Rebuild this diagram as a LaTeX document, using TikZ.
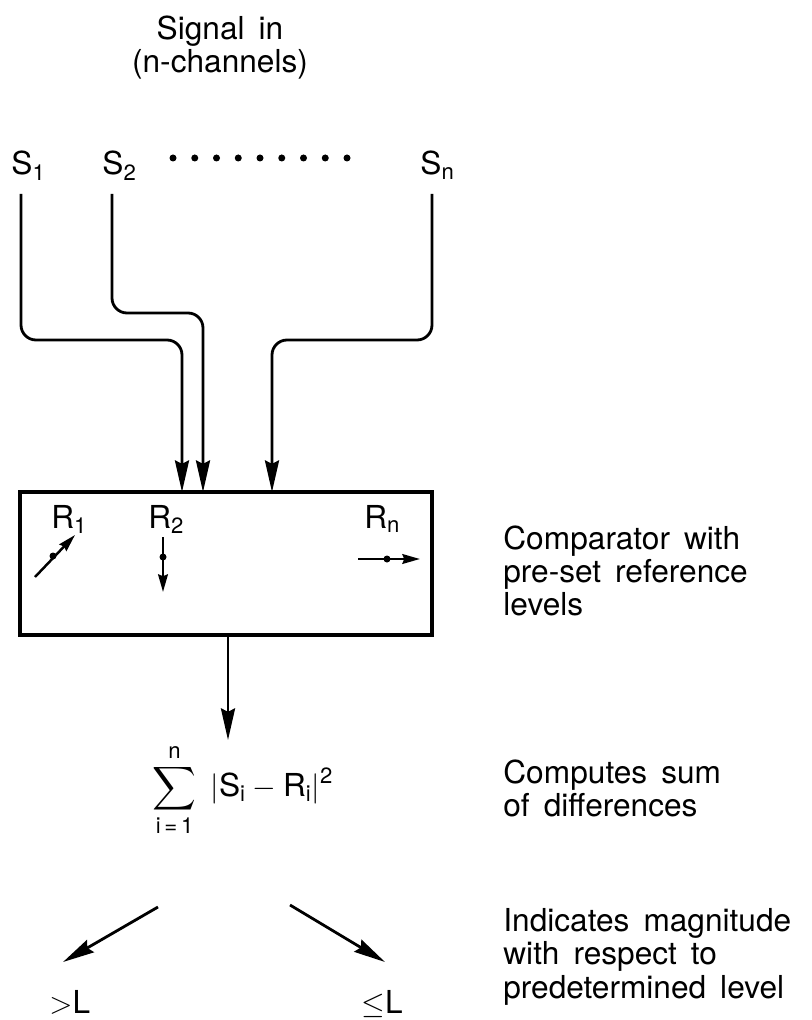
\documentclass[tikz,border=0pt]{standalone}
\usepackage{amsmath}
\usepackage{fontspec}
\setmainfont{TeX Gyre Heros}[WordSpace=1.6]
\usetikzlibrary{arrows.meta}

\tikzset{
  sigline/.style={line width=1.6pt, rounded corners=0.3cm, -{Stealth[length=18pt,width=8pt,inset=2pt]}},
  knob/.style={line width=1.4pt, -{Stealth[length=10pt,width=5.5pt,inset=1pt]}},
  lbl/.style={inner sep=0pt, anchor=base west},
  note/.style={inner sep=0pt, anchor=north west, align=left},
}

\begin{document}
\begin{tikzpicture}[x=0.02cm, y=-0.02cm, font=\fontsize{18pt}{19pt}\selectfont, line width=1.6pt]
  \useasboundingbox (0,0) rectangle (811,1020);

  % Signal inputs
  \node[inner sep=0pt, anchor=north, align=center] (sigin) at (220,14) {Signal in\\(n-channels)};
  \node[lbl] (s1) at (10,175) {S\textsubscript{1}};
  \node[lbl] (s2) at (101,175) {S\textsubscript{2}};
  \node[lbl] (sn) at (419,175) {S\textsubscript{n}};
  \foreach \k in {0,...,8}
    \fill (173+21.75*\k,158) circle (3.5);

  % Comparator box
  \node[draw, line width=2pt, inner sep=0pt, outer sep=0pt,
        minimum width=8.24cm, minimum height=2.86cm] (comp) at (226,563.5) {};
  \coordinate (t1) at (21,194);
  \coordinate (t2) at (112,194);
  \coordinate (tn) at (432,194);
  \coordinate (e1) at (182,492);
  \coordinate (e2) at (203,492);
  \coordinate (en) at (272,492);
  \draw[sigline] (t1) -- (21,340) -- (182,340) -- (comp.north -| e1);
  \draw[sigline] (t2) -- (112,313) -- (203,313) -- (comp.north -| e2);
  \draw[sigline] (tn) -- (432,340) -- (272,340) -- (comp.north -| en);

  % Reference levels
  \node[lbl] (r1) at (50,528) {R\textsubscript{1}};
  \node[lbl] (r2) at (147,528) {R\textsubscript{2}};
  \node[lbl] (rn) at (363,528) {R\textsubscript{n}};
  \draw[knob] (35,577) -- (75,535);
  \fill (53,556) circle (3.5);
  \draw[knob] (163,537) -- (163,592);
  \fill (163,557) circle (3.5);
  \draw[knob] (358,559) -- (420,559);
  \fill (387,559) circle (3.5);

  % Sum of differences
  \coordinate (o1) at (228,740);
  \draw[sigline] (comp.south -| o1) -- (o1);
  \node[inner sep=0pt] (sum) at (243,790)
    {$\displaystyle\sum_{\text{i\,=\,1}}^{\text{n}}\ \lvert\text{S}_\text{i} - \text{R}_\text{i}\rvert^{\text{2}}$};

  % Level outputs
  \node[lbl] (gt) at (48,1013) {$>$L};
  \node[lbl] (le) at (360,1013) {$\leq$L};
  \coordinate (g0) at (158,907);
  \coordinate (g1) at (63,962);
  \coordinate (l0) at (290,905);
  \coordinate (l1) at (385,962);
  \draw[sigline] (g0) -- (g1);
  \draw[sigline] (l0) -- (l1);

  % Notes
  \node[note] (cmpnote) at (502,524) {Comparator with\\pre-set reference\\levels};
  \node[note] (sumnote) at (502,758) {Computes sum\\of differences};
  \node[note] (lvlnote) at (502,907) {Indicates magnitude\\with respect to\\predetermined level};
\end{tikzpicture}
\end{document}
